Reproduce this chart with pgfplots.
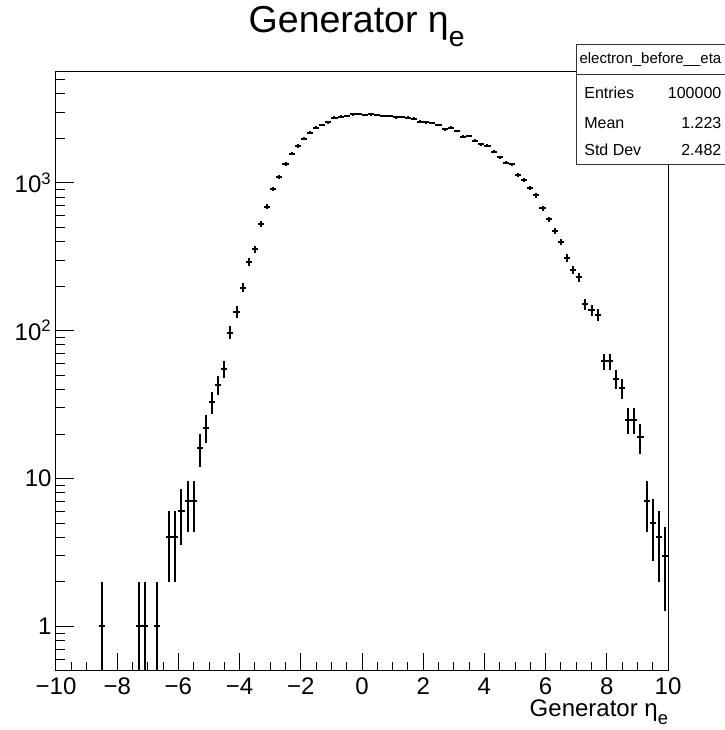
\documentclass[border=0pt]{standalone}
\usepackage{fontspec}
\setmainfont{Liberation Sans}
\usepackage{pgfplots}
\usepackage{pgfplotstable}
\pgfplotsset{compat=1.18}

% bin centre, entries, sqrt(entries)
\pgfplotstableread{
x y ey
-8.5 1 0.99
-7.3 1 0.99
-7.1 1 0.99
-6.7 1 0.99
-6.3 4 2
-6.1 4 2
-5.9 6 2.45
-5.7 7 2.65
-5.5 7 2.65
-5.3 16 4
-5.1 22 4.69
-4.9 33 5.74
-4.7 43 6.56
-4.5 55 7.42
-4.3 97 9.85
-4.1 134 11.6
-3.9 195 14.0
-3.7 291 17.1
-3.5 354 18.8
-3.3 526 22.9
-3.1 689 26.2
-2.9 906 30.1
-2.7 1099 33.2
-2.5 1337 36.6
-2.3 1570 39.6
-2.1 1770 42.1
-1.9 1983 44.5
-1.7 2177 46.7
-1.5 2355 48.5
-1.3 2455 49.5
-1.1 2556 50.6
-0.9 2750 52.4
-0.7 2793 52.8
-0.5 2820 53.1
-0.3 2893 53.8
-0.1 2910 53.9
0.1 2870 53.6
0.3 2893 53.8
0.5 2862 53.5
0.7 2830 53.2
0.9 2830 53.2
1.1 2760 52.5
1.3 2790 52.8
1.5 2750 52.4
1.7 2710 52.1
1.9 2582 50.8
2.1 2560 50.6
2.3 2525 50.2
2.5 2460 49.6
2.7 2290 47.9
2.9 2350 48.5
3.1 2240 47.3
3.3 2050 45.3
3.5 2066 45.5
3.7 1922 43.8
3.9 1825 42.7
4.1 1775 42.1
4.3 1615 40.2
4.5 1484 38.5
4.7 1368 37.0
4.9 1327 36.4
5.1 1128 33.6
5.3 1036 32.2
5.5 920 30.3
5.7 821 28.7
5.9 670 25.9
6.1 566 23.8
6.3 469 21.7
6.5 399 20.0
6.7 310 17.6
6.9 258 16.1
7.1 229 15.1
7.3 151 12.3
7.5 138 11.7
7.7 128 11.3
7.9 62 7.87
8.1 62 7.87
8.3 47 6.86
8.5 41 6.40
8.7 25 5
8.9 25 5
9.1 19 4.36
9.3 7 2.65
9.5 5 2.24
9.7 4 2
9.9 3 1.73
}\etadata

\begin{document}
\begin{tikzpicture}
\useasboundingbox (0,0) rectangle (434.4pt,438pt);
\begin{axis}[
  at={(33.6pt,35.4pt)}, anchor=south west,
  scale only axis, width=367.2pt, height=359.4pt,
  ymode=log,
  xmin=-10, xmax=10, ymin=0.5, ymax=5600,
  axis line style={line width=0.6pt},
  xtick={-10,-8,...,10},
  xticklabels={−10,−8,−6,−4,−2,0,2,4,6,8,10},
  minor x tick num=3,
  ytick={1,10,100,1000},
  yticklabels={1,10,10\textsuperscript{2},10\textsuperscript{3}},
  minor ytick={0.6,0.7,0.8,0.9,2,3,4,5,6,7,8,9,20,30,40,50,60,70,80,90,200,300,400,500,600,700,800,900,2000,3000,4000,5000},
  xtick pos=left, ytick pos=left,
  tick align=inside,
  major tick length=10.6pt, minor tick length=5.6pt,
  tick style={line width=0.6pt, black},
  ticklabel style={font=\fontsize{14.4}{16}\selectfont},
  xticklabel style={inner sep=0pt, yshift=-4pt, text depth=0pt},
  yticklabel style={inner sep=0pt, xshift=-2.5pt},
]
\addplot[draw=none, mark=none,
  error bars/.cd,
    x dir=both, x fixed=0.1,
    y dir=both, y explicit,
    error mark=none,
    error bar style={line width=1.2pt, black}]
  table[x=x, y=y, y error=ey] {\etadata};
\end{axis}

% title
\node[anchor=base, font=\fontsize{22.5}{26}\selectfont] at (214pt,418.2pt)
  {Generator η\raisebox{-0.35em}{\fontsize{17}{19}\selectfont e}};
% x axis title
\node[anchor=base east, inner sep=0pt, font=\fontsize{14.4}{16}\selectfont] at (401pt,7.8pt)
  {Generator η\raisebox{-0.3em}{\fontsize{11}{13}\selectfont e}};

% statistics box
\draw[black!80, line width=0.6pt, fill=white] (345.6pt,339pt) rectangle (440pt,411pt);
\draw[black!80, line width=0.6pt] (345.6pt,393pt) -- (440pt,393pt);
\begin{scope}[font=\fontsize{9.6}{11}\selectfont, inner sep=0pt]
\node[anchor=west, font=\fontsize{9}{11}\selectfont] at (347.5pt,402pt) {electron\_before\_\_eta};
\node[anchor=west] at (350.4pt,382.2pt) {Entries};
\node[anchor=west] at (350.4pt,364.2pt) {Mean};
\node[anchor=west] at (350.4pt,348pt) {Std Dev};
\node[anchor=east] at (433pt,382.2pt) {100000};
\node[anchor=east] at (433pt,364.2pt) {1.223};
\node[anchor=east] at (433pt,348pt) {2.482};
\end{scope}
\end{tikzpicture}
\end{document}
